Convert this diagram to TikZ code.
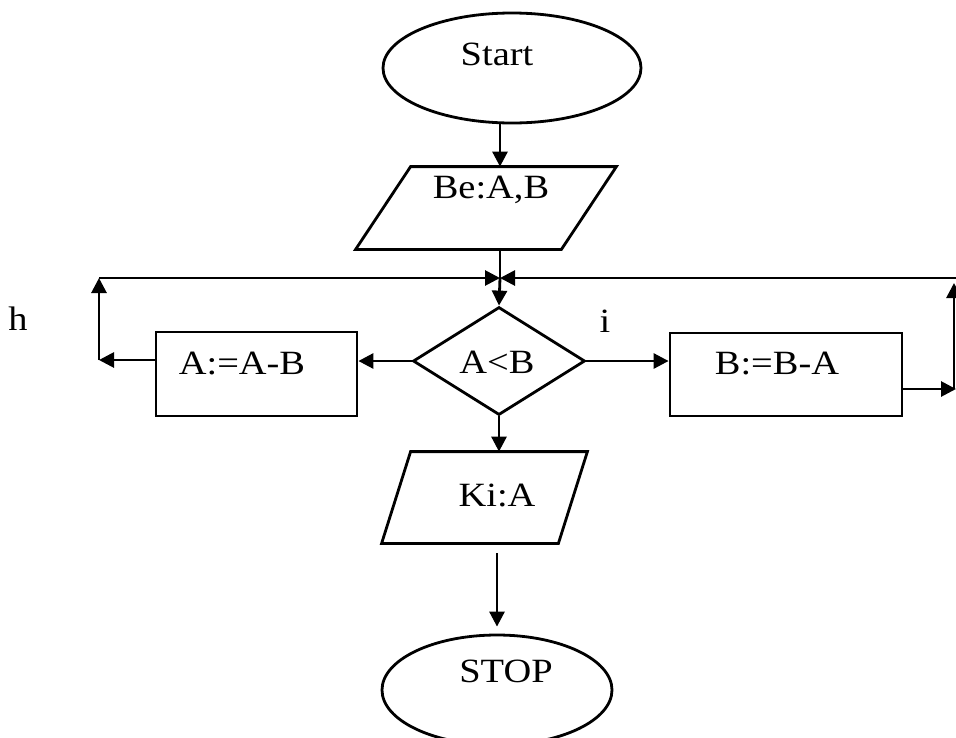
\documentclass[tikz,border=0pt]{standalone}
\usepackage{fontspec}
\setmainfont[FakeStretch=1.13]{Liberation Serif}
\usetikzlibrary{shapes.geometric,arrows.meta}
\begin{document}
\begin{tikzpicture}[x=1pt,y=-1pt,
  line width=2.8pt,
  tip/.style={-{Triangle[length=15pt,width=15pt]}},
  term/.style={draw,ellipse,inner sep=0pt},
  proc/.style={draw,rectangle,inner sep=0pt},
  dec/.style={draw,diamond,inner sep=0pt,minimum width=172pt,minimum height=108pt},
  io/.style={rectangle,inner sep=0pt},
  txt/.style={anchor=base,inner sep=0pt,font=\fontsize{34}{40}\selectfont}]
\fill[white] (0,0) rectangle (956,737);
\useasboundingbox (0,0) rectangle (956,737);

% Start
\node[term, minimum width=258pt, minimum height=110pt] (start) at (512,68) {};
\node[txt] (tstart) at (497,65) {Start};

% Input
\node[io, minimum width=258pt, minimum height=80pt] (in) at (486,208) {};
\draw ([xshift=55pt]in.north west) -- (in.north east) -- ([xshift=-55pt]in.south east) -- (in.south west) -- cycle;
\node[txt] (tin) at (491,198) {Be:A,B};

% junction and loop corners
\coordinate (j) at (500,278);
\coordinate (lc) at (99,278);
\coordinate (rc) at (954,278);
\coordinate (rt) at (956,278);
\coordinate (lb) at (99,360);
\coordinate (rb) at (954,389);
\coordinate (re) at (956,389);

% Decision
\node[dec] (d) at (499,361) {};
\node[txt] (td) at (497,373) {A<B};

% Processes
\node[proc, minimum width=201pt, minimum height=84pt] (a) at (256.5,374) {};
\node[txt] (ta) at (242,374) {A:=A-B};
\node[proc, minimum width=232pt, minimum height=83pt] (b) at (786,374.5) {};
\node[txt] (tb) at (777,374) {B:=B-A};

% Output
\node[io, minimum width=203pt, minimum height=89pt] (out) at (484.5,497.5) {};
\draw ([xshift=29pt]out.north west) -- (out.north east) -- ([xshift=-29pt]out.south east) -- (out.south west) -- cycle;
\node[txt] (tout) at (497,506) {Ki:A};

% Stop
\node[term, minimum width=230pt, minimum height=110pt] (stop) at (497,690) {};
\node[txt] (tstop) at (506,682) {STOP};

% labels
\node[txt] (lh) at (18,330) {h};
\node[txt] (li) at (605,332) {i};

% connectors
\draw[tip] (start.south -| j) -- (in.north -| j);
\draw (in.south -| j) -- (j);
\draw[tip] (j) -- (d.north);
\draw[tip] (lc) -- (j);
\draw[tip] (rt) -- (j);
\draw[tip] (d.west) -- (a.east |- d.west);
\draw[tip] (a.west |- lb) -- (lb);
\draw[tip] (lb) -- (lc);
\draw[tip] (d.east) -- (b.west |- d.east);
\draw[tip] (b.east |- rb) -- (re);
\draw[tip, shorten >=5pt] (rb) -- (rc);
\draw[tip] (d.south) -- (out.north -| d.south);
\draw[tip, shorten <=10pt, shorten >=7pt] (out.south -| stop.north) -- (stop.north);
\end{tikzpicture}
\end{document}
